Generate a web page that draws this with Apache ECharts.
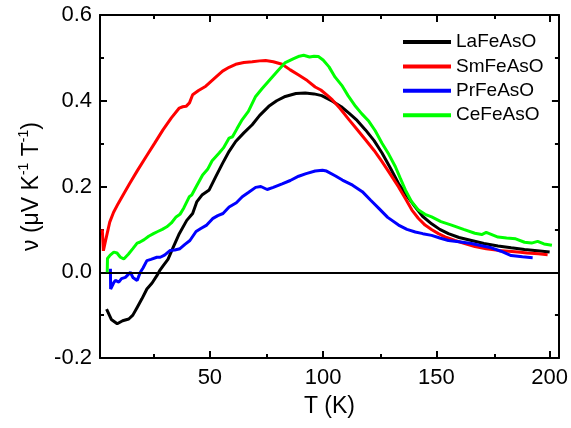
<!DOCTYPE html>
<html>
<head>
<meta charset="utf-8">
<script src="https://cdn.jsdelivr.net/npm/echarts@6/dist/echarts.min.js"></script>
<style>
html,body{margin:0;padding:0;background:#fff;}
#chart{width:571px;height:428px;}
</style>
</head>
<body>
<div id="chart"></div>
<script>
var seriesNames = ['LaFeAsO', 'SmFeAsO', 'PrFeAsO', 'CeFeAsO'];
var xMajorTicks = [50, 100, 150, 200];
var xMinorTicks = [25, 75, 125, 175];

var T_La = [4.4,6.5,9.1,11.5,14.2,16.0,17.9,20.0,22.2,24.5,26.6,28.0,29.5,31.5,33.9,36.5,39.8,42.4,44.2,46.5,49.7,52.5,55.6,58.5,61.4,65.0,68.7,72.0,76.0,79.5,83.3,88.0,92.1,96.0,99.4,104.1,108.0,111.4,115.0,118.7,122.5,126.0,129.5,133.3,137.0,140.7,144.0,147.9,151.5,155.3,160.0,165.5,171.0,177.2,183.0,188.9,194.5,200.0];
var V_La = [-0.086,-0.110,-0.120,-0.113,-0.109,-0.100,-0.082,-0.062,-0.039,-0.025,-0.008,0.005,0.016,0.030,0.059,0.090,0.121,0.137,0.164,0.180,0.192,0.222,0.254,0.282,0.305,0.325,0.344,0.366,0.387,0.400,0.410,0.417,0.418,0.416,0.412,0.399,0.386,0.371,0.354,0.332,0.307,0.278,0.245,0.207,0.178,0.152,0.130,0.113,0.100,0.090,0.081,0.074,0.067,0.061,0.057,0.053,0.050,0.047];

var T_Sm = [2.5,3.0,4.0,5.8,7.5,9.5,12.0,14.6,18.0,21.9,25.5,29.3,33.0,36.5,38.0,39.5,41.0,42.4,45.0,48.2,52.0,55.6,58.5,61.4,65.0,68.7,72.0,74.6,78.0,81.9,85.5,89.2,93.0,96.5,99.0,102.0,104.1,107.5,111.4,115.0,118.7,122.5,126.0,129.5,133.3,136.5,139.2,142.0,145.0,148.0,150.9,154.5,158.2,162.5,167.0,172.0,177.2,182.0,186.0,190.0,195.0,199.1];
var V_Sm = [0.100,0.050,0.075,0.117,0.140,0.160,0.183,0.207,0.237,0.270,0.300,0.332,0.360,0.383,0.386,0.387,0.395,0.414,0.424,0.434,0.452,0.469,0.478,0.485,0.489,0.491,0.493,0.494,0.491,0.485,0.472,0.460,0.447,0.432,0.425,0.412,0.402,0.382,0.356,0.333,0.309,0.284,0.258,0.230,0.199,0.170,0.145,0.126,0.110,0.099,0.090,0.081,0.074,0.067,0.060,0.055,0.051,0.049,0.047,0.045,0.043,0.041];

var T_Pr = [6.1,6.2,7.5,8.3,9.8,11.0,12.7,14.0,14.9,16.0,17.9,19.3,20.5,22.2,24.0,26.6,28.1,30.0,32.5,34.5,36.8,39.0,41.2,43.9,46.0,48.6,51.2,53.5,55.8,58.5,61.7,64.3,67.0,70.2,72.5,75.3,78.0,81.9,85.5,89.2,92.5,96.5,99.7,101.5,105.3,108.5,113.0,117.3,121.0,124.6,128.5,133.3,137.0,140.7,144.0,147.9,151.5,155.3,160.0,165.5,170.0,174.3,178.5,183.0,188.0,192.5];
var V_Pr = [0.008,-0.039,-0.025,-0.019,-0.023,-0.015,-0.012,-0.005,0.000,-0.012,-0.019,0.000,0.010,0.027,0.030,0.035,0.035,0.040,0.051,0.052,0.055,0.065,0.074,0.095,0.102,0.110,0.125,0.132,0.137,0.152,0.162,0.176,0.186,0.198,0.200,0.193,0.198,0.206,0.214,0.224,0.230,0.236,0.238,0.236,0.225,0.215,0.203,0.188,0.168,0.149,0.128,0.110,0.100,0.094,0.090,0.086,0.080,0.074,0.071,0.067,0.062,0.057,0.049,0.039,0.036,0.034];

var T_Ce = [4.7,4.8,6.0,7.6,9.0,10.5,12.0,14.0,16.0,17.9,19.0,21.0,23.0,25.1,27.0,29.0,31.0,33.0,35.1,36.8,38.5,40.9,42.0,44.0,46.8,49.0,51.0,54.1,56.0,58.5,60.0,62.0,64.3,67.0,70.2,73.0,76.0,80.0,83.3,87.0,89.5,91.4,94.0,96.0,97.9,100.0,102.6,105.3,108.5,111.0,114.3,117.0,120.2,123.0,126.0,129.0,131.9,134.0,136.3,139.0,142.1,145.0,147.9,152.0,156.7,162.0,167.0,170.0,172.0,177.2,181.0,185.0,188.9,192.0,194.7,197.5,201.0];
var V_Ce = [0.000,0.032,0.040,0.047,0.045,0.035,0.031,0.042,0.055,0.068,0.070,0.076,0.084,0.090,0.095,0.100,0.106,0.115,0.129,0.135,0.150,0.176,0.180,0.200,0.227,0.240,0.260,0.278,0.290,0.313,0.316,0.335,0.356,0.375,0.410,0.428,0.446,0.470,0.489,0.498,0.504,0.506,0.502,0.504,0.503,0.495,0.479,0.455,0.434,0.412,0.387,0.370,0.352,0.330,0.301,0.275,0.246,0.220,0.192,0.165,0.145,0.135,0.129,0.118,0.110,0.100,0.091,0.088,0.093,0.082,0.080,0.078,0.070,0.068,0.072,0.066,0.063];

var FONT = '"Liberation Sans", Arial, sans-serif';
function zip(t, v){ return t.map(function(x,i){ return [x, v[i]]; }); }

var X_MIN = 1.5, X_MAX = 204.1;
var GRID = {left:100, right:10, top:15, bottom:70};

function xAxisDef(grid, pos, ticks, len, showLine, label){
  return {
    type:'value', gridIndex:grid, position:pos, min:X_MIN, max:X_MAX,
    axisLine:{show:showLine, onZero:false, lineStyle:{color:'#000', width:2}},
    axisTick:{show:true, inside:true, length:len, customValues:ticks, lineStyle:{color:'#000', width:2}},
    axisLabel: label ? {show:true, customValues:ticks, fontSize:22, color:'#000', fontFamily:FONT, margin:9} : {show:false},
    splitLine:{show:false}
  };
}

var xAxes = [
  xAxisDef(0,'bottom',xMajorTicks,7,true,true),
  xAxisDef(0,'top',xMajorTicks,7,true,false),
  xAxisDef(1,'bottom',xMinorTicks,4,false,false),
  xAxisDef(1,'top',xMinorTicks,4,false,false)
];
xAxes[0].name = 'T (K)';
xAxes[0].nameLocation = 'middle';
xAxes[0].nameGap = 37;
xAxes[0].nameTextStyle = {fontSize:23, color:'#000', fontFamily:FONT};

function yAxisDef(pos, label){
  return {
    type:'value', gridIndex:0, position:pos, min:-0.2, max:0.6, interval:0.2,
    axisLine:{show:true, onZero:false, lineStyle:{color:'#000', width:2}},
    axisTick:{show:true, inside:true, length:7, lineStyle:{color:'#000', width:2}},
    minorTick:{show:true, splitNumber:2, length:4, lineStyle:{color:'#000', width:2}},
    axisLabel: label ? {show:true, fontSize:22, color:'#000', fontFamily:FONT, margin:8,
      formatter:function(v){ return v.toFixed(1); }} : {show:false},
    splitLine:{show:false}
  };
}
var yAxes = [yAxisDef('left', true), yAxisDef('right', false),
  {type:'value', gridIndex:1, min:-0.2, max:0.6, show:false}];
yAxes[0].name = '{a|ν (μV K}{s|-1}{a| T}{s|-1}{a|)}';
yAxes[0].nameLocation = 'middle';
yAxes[0].nameRotate = 90;
yAxes[0].nameGap = 55;
yAxes[0].nameTextStyle = {
  color:'#000', fontFamily:FONT,
  rich:{
    a:{fontSize:23, color:'#000', fontFamily:FONT, lineHeight:26, verticalAlign:'bottom'},
    s:{fontSize:14, color:'#000', fontFamily:FONT, lineHeight:26, verticalAlign:'top'}
  }
};

var colors = ['#000000', '#ff0000', '#0000ff', '#00ff00'];
var datasets = [zip(T_La,V_La), zip(T_Sm,V_Sm), zip(T_Pr,V_Pr), zip(T_Ce,V_Ce)];

var series = seriesNames.map(function(n, i){
  var s = {
    name:n, type:'line', xAxisIndex:0, yAxisIndex:0, data:datasets[i],
    showSymbol:false, symbol:'none', smooth:false,
    lineStyle:{color:colors[i], width:3}, itemStyle:{color:colors[i]},
    emphasis:{disabled:true}, z:2+i
  };
  return s;
});
series.push({
  type:'line', xAxisIndex:0, yAxisIndex:0, data:[], silent:true, z:10,
  markLine:{silent:true, symbol:['none','none'], label:{show:false},
    lineStyle:{color:'#000', width:2, type:'solid'},
    emphasis:{disabled:true}, data:[{yAxis:0}]}
});

var chart = echarts.init(document.getElementById('chart'), null, {renderer:'canvas'});
chart.setOption({
  animation:false,
  backgroundColor:'#fff',
  grid:[Object.assign({}, GRID), Object.assign({}, GRID)],
  legend:{
    data:seriesNames, orient:'vertical', left:403, top:32, padding:0,
    icon:'rect', itemWidth:48, itemHeight:4, itemGap:4.4,
    textStyle:{fontSize:19, lineHeight:20, color:'#000', fontFamily:FONT},
    selectedMode:false
  },
  xAxis:xAxes,
  yAxis:yAxes,
  series:series
});
</script>
</body>
</html>
